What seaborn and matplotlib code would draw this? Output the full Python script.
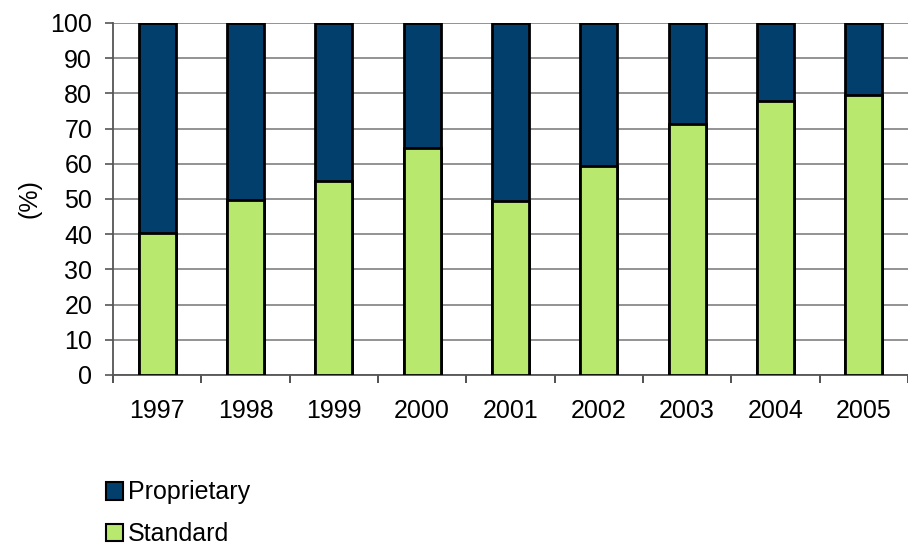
import matplotlib
matplotlib.use("Agg")
import matplotlib.pyplot as plt
import seaborn as sns
import pandas as pd
import numpy as np
from matplotlib.patches import Patch

years = ["1997", "1998", "1999", "2000", "2001", "2002", "2003", "2004", "2005"]
standard = [40.4, 49.6, 55.2, 64.6, 49.5, 59.3, 71.4, 77.7, 79.6]
proprietary = [100 - s for s in standard]
series_names = ["Proprietary", "Standard"]
colors = {"Proprietary": "#023f6d", "Standard": "#b9e86f"}

sns.set_theme(style="white")
plt.rcParams["font.family"] = ["Liberation Sans", "DejaVu Sans"]
plt.rcParams["text.color"] = "black"
plt.rcParams["axes.labelcolor"] = "black"
FS = 18

df = pd.DataFrame({"year": years, "Standard": standard, "Proprietary": proprietary})
df["Total"] = df["Standard"] + df["Proprietary"]

fig = plt.figure(figsize=(9.08, 5.46), dpi=100)
ax = fig.add_axes([113 / 908, 1 - 375 / 546, 795 / 908, 352 / 546])

sns.barplot(data=df, x="year", y="Total", color=colors["Proprietary"], width=0.42,
            edgecolor="black", linewidth=2, saturation=1, ax=ax, zorder=3)
sns.barplot(data=df, x="year", y="Standard", color=colors["Standard"], width=0.42,
            edgecolor="black", linewidth=2, saturation=1, ax=ax, zorder=4)

ax.set_xlim(-0.5, len(years) - 0.5)
ax.set_ylim(0, 100)
ax.set_yticks(np.arange(0, 101, 10))
ax.yaxis.grid(True, color="#808080", linewidth=1.2, zorder=0)
ax.set_axisbelow(True)
for s in ["top", "right"]:
    ax.spines[s].set_visible(False)
for s in ["left", "bottom"]:
    ax.spines[s].set_color("#555555")
    ax.spines[s].set_linewidth(1.3)

ax.set_xlabel("")
ax.set_ylabel("(%)", fontsize=FS, labelpad=6, color="black")
ax.tick_params(axis="x", which="major", length=0, pad=17, labelsize=FS, labelcolor="black")
ax.set_xticks(np.arange(-0.5, len(years) - 0.5 + 0.01, 1), minor=True)
ax.tick_params(axis="x", which="minor", length=6, width=1.2, color="#333333", bottom=True)
ax.tick_params(axis="y", length=6, width=1.2, color="#555555", left=True, pad=9,
               labelsize=FS, labelcolor="black")

handles = [Patch(facecolor=colors[n], edgecolor="black", linewidth=1.5) for n in series_names]
leg = fig.legend(handles, series_names, loc="upper left", bbox_to_anchor=(88 / 908, 1 - 463 / 546),
                 frameon=False, fontsize=FS, handlelength=0.7, handleheight=0.7,
                 handletextpad=0.2, labelspacing=0.7, borderpad=0.2)
for t in leg.get_texts():
    t.set_color("black")

fig.savefig("out.png", dpi=100)
